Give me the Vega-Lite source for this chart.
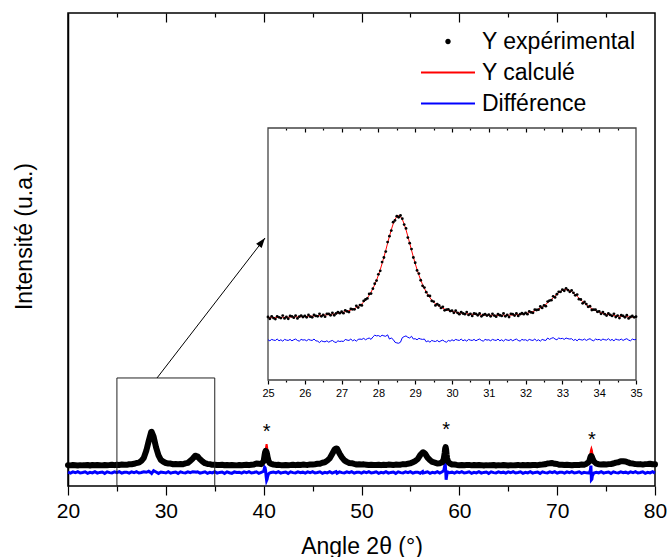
{
"$schema":"https://vega.github.io/schema/vega-lite/v6.json",
"width":587,"height":473,
"autosize":{"type":"none"},
"padding":{"left":68,"top":13,"right":13,"bottom":71},
"config":{"font":"Liberation Sans","view":{"stroke":"black","strokeWidth":1.5},"axis":{"grid":false,"domain":false,"tickColor":"black","tickWidth":1.2,"labelColor":"black","titleColor":"black","titleFontWeight":"normal","labelFont":"Liberation Sans","titleFont":"Liberation Sans"}},
"datasets":{
"main":[
{"x":20,"calc":97.9,"obs":99,"diff":37},{"x":20.25,"calc":97.9,"obs":97,"diff":28},{"x":20.5,"calc":98,"obs":100,"diff":39},{"x":20.75,"calc":98,"obs":98,"diff":32},{"x":21,"calc":98.1,"obs":96,"diff":42},{"x":21.25,"calc":98.1,"obs":99,"diff":30},{"x":21.5,"calc":98.2,"obs":97,"diff":34},{"x":21.75,"calc":98.2,"obs":98,"diff":40},{"x":22,"calc":98.3,"obs":100,"diff":27},{"x":22.25,"calc":98.4,"obs":96,"diff":36},{"x":22.5,"calc":98.5,"obs":100,"diff":31},{"x":22.75,"calc":98.7,"obs":98,"diff":41},{"x":23,"calc":98.8,"obs":101,"diff":29},{"x":23.25,"calc":98.9,"obs":99,"diff":35},{"x":23.5,"calc":99.1,"obs":97,"diff":38},{"x":23.75,"calc":99.3,"obs":100,"diff":26},{"x":24,"calc":99.5,"obs":99,"diff":40},{"x":24.25,"calc":99.8,"obs":100,"diff":33},{"x":24.5,"calc":100.1,"obs":102,"diff":30},{"x":24.75,"calc":100.5,"obs":99,"diff":39},
{"x":25,"calc":101,"obs":102,"diff":32},{"x":25.25,"calc":101.6,"obs":101,"diff":41},{"x":25.5,"calc":102.3,"obs":104,"diff":28},{"x":25.75,"calc":103.2,"obs":103,"diff":36},{"x":26,"calc":104.4,"obs":102,"diff":37},{"x":26.25,"calc":106,"obs":107,"diff":28},{"x":26.5,"calc":108.2,"obs":107,"diff":39},{"x":26.75,"calc":111.1,"obs":111,"diff":32},{"x":27,"calc":115.6,"obs":118,"diff":42},{"x":27.25,"calc":122.8,"obs":121,"diff":30},{"x":27.5,"calc":136.4,"obs":137,"diff":34},{"x":27.75,"calc":165.2,"obs":164,"diff":40},{"x":28,"calc":222.5,"obs":225,"diff":36},{"x":28.25,"calc":313.7,"obs":312,"diff":45},{"x":28.5,"calc":389.8,"obs":391,"diff":30},{"x":28.55,"calc":392.7,"obs":393,"diff":26},{"x":28.75,"calc":352.2,"obs":351,"diff":50},{"x":29,"calc":255.8,"obs":256,"diff":38},{"x":29.25,"calc":184.3,"obs":186,"diff":26},{"x":29.5,"calc":146,"obs":144,"diff":38},{"x":29.75,"calc":127.9,"obs":129,"diff":35},
{"x":30,"calc":119.1,"obs":118,"diff":30},{"x":30.25,"calc":114.1,"obs":114,"diff":41},{"x":30.5,"calc":111.1,"obs":113,"diff":28},{"x":30.75,"calc":109.2,"obs":107,"diff":35},{"x":31,"calc":108.1,"obs":109,"diff":38},{"x":31.25,"calc":107.7,"obs":107,"diff":26},{"x":31.5,"calc":108.1,"obs":109,"diff":40},{"x":31.75,"calc":109.4,"obs":107,"diff":33},{"x":32,"calc":113,"obs":115,"diff":30},{"x":32.25,"calc":120.6,"obs":119,"diff":39},{"x":32.5,"calc":135.3,"obs":136,"diff":32},{"x":32.75,"calc":157.9,"obs":157,"diff":41},{"x":33,"calc":178.8,"obs":181,"diff":38},{"x":33.1,"calc":181.3,"obs":181,"diff":36},{"x":33.25,"calc":175.5,"obs":175,"diff":40},{"x":33.5,"calc":152,"obs":150,"diff":29},{"x":33.75,"calc":130.4,"obs":131,"diff":34},{"x":34,"calc":116.8,"obs":116,"diff":40},{"x":34.25,"calc":109.5,"obs":110,"diff":27},{"x":34.5,"calc":105.8,"obs":108,"diff":36},{"x":34.75,"calc":103.7,"obs":102,"diff":31},
{"x":35,"calc":102.3,"obs":103,"diff":41},{"x":35.25,"calc":101.4,"obs":100,"diff":29},{"x":35.5,"calc":100.7,"obs":101,"diff":35},{"x":35.75,"calc":100.2,"obs":102,"diff":38},{"x":36,"calc":99.8,"obs":98,"diff":26},{"x":36.25,"calc":99.5,"obs":101,"diff":40},{"x":36.5,"calc":99.3,"obs":98,"diff":32},{"x":36.75,"calc":99.2,"obs":101,"diff":27},{"x":37,"calc":99.3,"obs":99,"diff":39},{"x":37.25,"calc":99.3,"obs":97,"diff":34},{"x":37.5,"calc":99.4,"obs":100,"diff":37},{"x":37.75,"calc":99.4,"obs":98,"diff":28},{"x":38,"calc":99.6,"obs":100,"diff":39},{"x":38.25,"calc":100,"obs":102,"diff":32},{"x":38.5,"calc":100.7,"obs":99,"diff":42},{"x":38.75,"calc":102.1,"obs":103,"diff":30},{"x":39,"calc":105.9,"obs":105,"diff":34},{"x":39.25,"calc":112.3,"obs":114,"diff":40},{"x":39.5,"calc":110.6,"obs":111,"diff":27},{"x":39.75,"calc":110.2,"obs":108,"diff":36},
{"x":40,"calc":125.5,"obs":134,"diff":45},{"x":40.1,"calc":148.6,"obs":190,"diff":80},{"x":40.15,"calc":171.6,"obs":214,"diff":75},{"x":40.2,"calc":208.5,"obs":224,"diff":50},{"x":40.25,"calc":256.9,"obs":222,"diff":0},{"x":40.3,"calc":284.1,"obs":214,"diff":-35},{"x":40.35,"calc":256.7,"obs":196,"diff":-25},{"x":40.4,"calc":208.1,"obs":170,"diff":-3},{"x":40.5,"calc":147.8,"obs":136,"diff":22},{"x":40.6,"calc":124.2,"obs":120,"diff":30},{"x":40.75,"calc":111.2,"obs":110,"diff":34},
{"x":41,"calc":104.5,"obs":105,"diff":39},{"x":41.25,"calc":101.9,"obs":101,"diff":31},{"x":41.5,"calc":100.9,"obs":102,"diff":41},{"x":41.75,"calc":100.4,"obs":99,"diff":29},{"x":42,"calc":100.2,"obs":99,"diff":35},{"x":42.25,"calc":100,"obs":101,"diff":38},{"x":42.5,"calc":100.1,"obs":99,"diff":26},{"x":42.75,"calc":100.1,"obs":100,"diff":40},{"x":43,"calc":100.2,"obs":102,"diff":33},{"x":43.25,"calc":100.5,"obs":99,"diff":30},{"x":43.5,"calc":100.8,"obs":102,"diff":39},{"x":43.75,"calc":101.1,"obs":100,"diff":32},{"x":44,"calc":101.6,"obs":104,"diff":37},{"x":44.25,"calc":102.1,"obs":102,"diff":28},{"x":44.5,"calc":102.9,"obs":101,"diff":39},{"x":44.75,"calc":103.8,"obs":105,"diff":32},
{"x":45,"calc":105.1,"obs":104,"diff":42},{"x":45.25,"calc":106.8,"obs":107,"diff":30},{"x":45.5,"calc":109.2,"obs":111,"diff":34},{"x":45.75,"calc":112.6,"obs":111,"diff":40},{"x":46,"calc":117.7,"obs":120,"diff":27},{"x":46.25,"calc":125.5,"obs":124,"diff":36},{"x":46.5,"calc":138.4,"obs":139,"diff":31},{"x":46.75,"calc":160.2,"obs":159,"diff":41},{"x":47,"calc":195.6,"obs":198,"diff":29},{"x":47.25,"calc":237.2,"obs":237,"diff":38},{"x":47.4,"calc":247.6,"obs":246,"diff":42},{"x":47.5,"calc":242.6,"obs":244,"diff":28},{"x":47.75,"calc":204.4,"obs":202,"diff":40},{"x":48,"calc":166.1,"obs":167,"diff":33},{"x":48.25,"calc":141.9,"obs":141,"diff":30},{"x":48.5,"calc":127.6,"obs":128,"diff":39},{"x":48.75,"calc":119,"obs":118,"diff":32},{"x":49,"calc":113.5,"obs":116,"diff":41},{"x":49.25,"calc":109.8,"obs":110,"diff":28},{"x":49.5,"calc":107.2,"obs":105,"diff":36},{"x":49.75,"calc":105.4,"obs":106,"diff":37},
{"x":50,"calc":104.6,"obs":104,"diff":28},{"x":50.25,"calc":103.6,"obs":106,"diff":39},{"x":50.5,"calc":102.9,"obs":103,"diff":32},{"x":50.75,"calc":102.3,"obs":100,"diff":42},{"x":51,"calc":101.9,"obs":103,"diff":30},{"x":51.25,"calc":101.6,"obs":101,"diff":34},{"x":51.5,"calc":101.4,"obs":101,"diff":40},{"x":51.75,"calc":101.3,"obs":103,"diff":27},{"x":52,"calc":101.2,"obs":99,"diff":36},{"x":52.25,"calc":101.2,"obs":102,"diff":31},{"x":52.5,"calc":101.3,"obs":100,"diff":41},{"x":52.75,"calc":101.5,"obs":104,"diff":29},{"x":53,"calc":101.8,"obs":102,"diff":35},{"x":53.25,"calc":102.2,"obs":100,"diff":38},{"x":53.5,"calc":102.8,"obs":104,"diff":26},{"x":53.75,"calc":103.5,"obs":103,"diff":40},{"x":54,"calc":104.5,"obs":103,"diff":33},{"x":54.25,"calc":105.9,"obs":108,"diff":30},{"x":54.5,"calc":107.9,"obs":106,"diff":39},{"x":54.75,"calc":110.9,"obs":112,"diff":32},
{"x":55,"calc":115.5,"obs":115,"diff":41},{"x":55.25,"calc":122.7,"obs":125,"diff":28},{"x":55.5,"calc":134.8,"obs":135,"diff":36},{"x":55.75,"calc":155.3,"obs":153,"diff":37},{"x":56,"calc":186.6,"obs":188,"diff":28},{"x":56.25,"calc":211.9,"obs":211,"diff":42},{"x":56.3,"calc":212.9,"obs":213,"diff":30},{"x":56.5,"calc":199.7,"obs":200,"diff":34},{"x":56.75,"calc":167.1,"obs":165,"diff":40},{"x":57,"calc":142.3,"obs":143,"diff":27},{"x":57.25,"calc":127.7,"obs":127,"diff":36},{"x":57.5,"calc":119.3,"obs":121,"diff":31},{"x":57.75,"calc":115.1,"obs":113,"diff":41},{"x":58,"calc":114.4,"obs":115,"diff":29},{"x":58.25,"calc":122.6,"obs":124,"diff":40},{"x":58.4,"calc":146.8,"obs":152,"diff":50},{"x":58.5,"calc":198.1,"obs":205,"diff":90},{"x":58.55,"calc":239.4,"obs":244,"diff":125},{"x":58.6,"calc":262.6,"obs":258,"diff":60},{"x":58.65,"calc":238.8,"obs":236,"diff":-30},{"x":58.7,"calc":197,"obs":192,"diff":0},{"x":58.75,"calc":164.9,"obs":160,"diff":25},{"x":58.85,"calc":132.3,"obs":130,"diff":38},{"x":59,"calc":115.1,"obs":116,"diff":32},{"x":59.25,"calc":106.5,"obs":105,"diff":37},{"x":59.5,"calc":103.5,"obs":105,"diff":28},{"x":59.75,"calc":101.9,"obs":101,"diff":39},
{"x":60,"calc":101,"obs":99,"diff":32},{"x":60.25,"calc":100.4,"obs":101,"diff":42},{"x":60.5,"calc":99.9,"obs":99,"diff":30},{"x":60.75,"calc":99.6,"obs":100,"diff":34},{"x":61,"calc":99.3,"obs":101,"diff":40},{"x":61.25,"calc":99,"obs":97,"diff":27},{"x":61.5,"calc":98.9,"obs":100,"diff":36},{"x":61.75,"calc":98.7,"obs":98,"diff":31},{"x":62,"calc":98.6,"obs":101,"diff":41},{"x":62.25,"calc":98.5,"obs":99,"diff":29},{"x":62.5,"calc":98.4,"obs":96,"diff":35},{"x":62.75,"calc":98.3,"obs":99,"diff":38},{"x":63,"calc":98.2,"obs":97,"diff":26},{"x":63.25,"calc":98.2,"obs":98,"diff":40},{"x":63.5,"calc":98.2,"obs":100,"diff":33},{"x":63.75,"calc":98.1,"obs":96,"diff":30},{"x":64,"calc":98.1,"obs":99,"diff":39},{"x":64.25,"calc":98.1,"obs":97,"diff":32},{"x":64.5,"calc":98.2,"obs":100,"diff":37},{"x":64.75,"calc":98.2,"obs":98,"diff":28},
{"x":65,"calc":98.3,"obs":96,"diff":39},{"x":65.25,"calc":98.3,"obs":99,"diff":32},{"x":65.5,"calc":98.4,"obs":97,"diff":42},{"x":65.75,"calc":98.5,"obs":99,"diff":30},{"x":66,"calc":98.6,"obs":101,"diff":34},{"x":66.25,"calc":98.7,"obs":97,"diff":40},{"x":66.5,"calc":98.8,"obs":100,"diff":27},{"x":66.75,"calc":99,"obs":99,"diff":36},{"x":67,"calc":99.2,"obs":100,"diff":31},{"x":67.25,"calc":99.4,"obs":98,"diff":41},{"x":67.5,"calc":99.8,"obs":101,"diff":29},{"x":67.75,"calc":100.3,"obs":100,"diff":35},{"x":68,"calc":100.8,"obs":99,"diff":38},{"x":68.25,"calc":102,"obs":103,"diff":26},{"x":68.5,"calc":103.9,"obs":104,"diff":40},{"x":68.75,"calc":106.9,"obs":106,"diff":33},{"x":69,"calc":111.5,"obs":114,"diff":30},{"x":69.25,"calc":116.5,"obs":115,"diff":39},{"x":69.5,"calc":117.2,"obs":118,"diff":32},{"x":69.75,"calc":112.6,"obs":111,"diff":41},
{"x":70,"calc":107.7,"obs":109,"diff":28},{"x":70.25,"calc":104.4,"obs":102,"diff":36},{"x":70.5,"calc":102.3,"obs":103,"diff":37},{"x":70.75,"calc":101,"obs":100,"diff":28},{"x":71,"calc":100.7,"obs":102,"diff":39},{"x":71.25,"calc":100.2,"obs":100,"diff":32},{"x":71.5,"calc":100,"obs":98,"diff":42},{"x":71.75,"calc":99.9,"obs":101,"diff":30},{"x":72,"calc":100.7,"obs":100,"diff":34},{"x":72.25,"calc":101.3,"obs":101,"diff":40},{"x":72.5,"calc":102.4,"obs":104,"diff":27},{"x":72.75,"calc":104.9,"obs":103,"diff":36},{"x":73,"calc":111.3,"obs":112,"diff":31},{"x":73.25,"calc":137.5,"obs":128,"diff":30},{"x":73.3,"calc":151.1,"obs":140,"diff":30},{"x":73.4,"calc":198.8,"obs":170,"diff":60},{"x":73.45,"calc":228.5,"obs":180,"diff":95},{"x":73.5,"calc":242.9,"obs":180,"diff":-30},{"x":73.55,"calc":228.6,"obs":172,"diff":-25},{"x":73.6,"calc":199,"obs":160,"diff":5},{"x":73.75,"calc":138,"obs":132,"diff":30},{"x":74,"calc":112.4,"obs":112,"diff":36},{"x":74.25,"calc":106.7,"obs":107,"diff":31},{"x":74.5,"calc":104.9,"obs":104,"diff":41},{"x":74.75,"calc":104.8,"obs":106,"diff":29},
{"x":75,"calc":105.6,"obs":104,"diff":35},{"x":75.25,"calc":107.1,"obs":108,"diff":38},{"x":75.5,"calc":109.7,"obs":109,"diff":26},{"x":75.75,"calc":113.4,"obs":113,"diff":40},{"x":76,"calc":118.9,"obs":121,"diff":33},{"x":76.25,"calc":125.9,"obs":124,"diff":30},{"x":76.5,"calc":132.5,"obs":134,"diff":39},{"x":76.75,"calc":135,"obs":134,"diff":32},{"x":77,"calc":130.5,"obs":132,"diff":37},{"x":77.25,"calc":123.4,"obs":123,"diff":28},{"x":77.5,"calc":116.8,"obs":115,"diff":39},{"x":77.75,"calc":112.1,"obs":113,"diff":32},{"x":78,"calc":109.1,"obs":108,"diff":42},{"x":78.25,"calc":107.2,"obs":107,"diff":30},{"x":78.5,"calc":106.1,"obs":108,"diff":34},{"x":78.75,"calc":106.2,"obs":104,"diff":40},{"x":79,"calc":107.3,"obs":108,"diff":27},{"x":79.25,"calc":109.2,"obs":109,"diff":36},{"x":79.5,"calc":110.2,"obs":111,"diff":31},{"x":79.75,"calc":108.3,"obs":107,"diff":41},{"x":80,"calc":105.4,"obs":106,"diff":29}
],
"inset":[
{"x":25,"calc":101,"obs":103,"diff":38},{"x":25.05,"calc":101.1,"obs":98,"diff":35},{"x":25.1,"calc":101.2,"obs":105,"diff":39},{"x":25.15,"calc":101.3,"obs":100,"diff":37},{"x":25.2,"calc":101.4,"obs":97,"diff":36},{"x":25.25,"calc":101.6,"obs":105,"diff":40},{"x":25.3,"calc":101.7,"obs":102,"diff":35},{"x":25.35,"calc":101.8,"obs":100,"diff":38},{"x":25.4,"calc":102,"obs":107,"diff":34},{"x":25.45,"calc":102.2,"obs":99,"diff":39},{"x":25.5,"calc":102.3,"obs":103,"diff":37},{"x":25.55,"calc":102.5,"obs":98,"diff":36},{"x":25.6,"calc":102.7,"obs":106,"diff":39},{"x":25.65,"calc":102.9,"obs":105,"diff":35},{"x":25.7,"calc":103,"obs":101,"diff":38},{"x":25.75,"calc":103.2,"obs":107,"diff":40},{"x":25.8,"calc":103.5,"obs":99,"diff":36},{"x":25.85,"calc":103.7,"obs":104,"diff":34},{"x":25.9,"calc":103.9,"obs":107,"diff":39},{"x":25.95,"calc":104.2,"obs":103,"diff":37},
{"x":26,"calc":104.4,"obs":106,"diff":38},{"x":26.05,"calc":104.7,"obs":102,"diff":35},{"x":26.1,"calc":105,"obs":109,"diff":39},{"x":26.15,"calc":105.3,"obs":104,"diff":37},{"x":26.2,"calc":105.6,"obs":102,"diff":36},{"x":26.25,"calc":106,"obs":109,"diff":40},{"x":26.3,"calc":106.4,"obs":106,"diff":35},{"x":26.35,"calc":106.8,"obs":105,"diff":34},{"x":26.4,"calc":107.3,"obs":112,"diff":30},{"x":26.45,"calc":107.7,"obs":105,"diff":35},{"x":26.5,"calc":108.2,"obs":109,"diff":33},{"x":26.55,"calc":108.6,"obs":104,"diff":32},{"x":26.6,"calc":109.2,"obs":112,"diff":35},{"x":26.65,"calc":109.8,"obs":112,"diff":31},{"x":26.7,"calc":110.4,"obs":108,"diff":34},{"x":26.75,"calc":111.1,"obs":115,"diff":36},{"x":26.8,"calc":111.8,"obs":108,"diff":32},{"x":26.85,"calc":112.6,"obs":113,"diff":30},{"x":26.9,"calc":113.5,"obs":117,"diff":35},{"x":26.95,"calc":114.5,"obs":114,"diff":33},
{"x":27,"calc":115.6,"obs":118,"diff":34},{"x":27.05,"calc":116.8,"obs":114,"diff":33},{"x":27.1,"calc":118.1,"obs":122,"diff":39},{"x":27.15,"calc":119.5,"obs":119,"diff":37},{"x":27.2,"calc":121,"obs":117,"diff":36},{"x":27.25,"calc":122.8,"obs":126,"diff":40},{"x":27.3,"calc":124.8,"obs":125,"diff":35},{"x":27.35,"calc":127.1,"obs":125,"diff":38},{"x":27.4,"calc":129.8,"obs":135,"diff":34},{"x":27.45,"calc":132.9,"obs":130,"diff":39},{"x":27.5,"calc":136.4,"obs":137,"diff":40},{"x":27.55,"calc":140.6,"obs":136,"diff":39},{"x":27.6,"calc":145.5,"obs":149,"diff":42},{"x":27.65,"calc":151.1,"obs":153,"diff":38},{"x":27.7,"calc":157.6,"obs":156,"diff":41},{"x":27.75,"calc":165.2,"obs":169,"diff":43},{"x":27.8,"calc":173.9,"obs":170,"diff":39},{"x":27.85,"calc":183.9,"obs":184,"diff":46},{"x":27.9,"calc":195.3,"obs":198,"diff":51},{"x":27.95,"calc":208.2,"obs":207,"diff":49},
{"x":28,"calc":222.5,"obs":225,"diff":50},{"x":28.05,"calc":238.4,"obs":235,"diff":47},{"x":28.1,"calc":255.6,"obs":260,"diff":51},{"x":28.15,"calc":274.2,"obs":273,"diff":49},{"x":28.2,"calc":293.6,"obs":290,"diff":48},{"x":28.25,"calc":313.7,"obs":317,"diff":52},{"x":28.3,"calc":333.5,"obs":334,"diff":40},{"x":28.35,"calc":352.1,"obs":350,"diff":43},{"x":28.4,"calc":368.5,"obs":374,"diff":39},{"x":28.45,"calc":381.5,"obs":379,"diff":31},{"x":28.5,"calc":389.8,"obs":391,"diff":29},{"x":28.55,"calc":392.7,"obs":388,"diff":28},{"x":28.6,"calc":389.8,"obs":393,"diff":31},{"x":28.65,"calc":381.6,"obs":384,"diff":44},{"x":28.7,"calc":368.6,"obs":367,"diff":47},{"x":28.75,"calc":352.2,"obs":356,"diff":49},{"x":28.8,"calc":333.6,"obs":330,"diff":45},{"x":28.85,"calc":313.8,"obs":314,"diff":43},{"x":28.9,"calc":293.8,"obs":297,"diff":48},{"x":28.95,"calc":274.4,"obs":273,"diff":40},
{"x":29,"calc":255.8,"obs":258,"diff":41},{"x":29.05,"calc":238.8,"obs":236,"diff":38},{"x":29.1,"calc":222.9,"obs":227,"diff":42},{"x":29.15,"calc":208.6,"obs":208,"diff":40},{"x":29.2,"calc":195.7,"obs":192,"diff":39},{"x":29.25,"calc":184.3,"obs":187,"diff":40},{"x":29.3,"calc":174.3,"obs":174,"diff":32},{"x":29.35,"calc":165.7,"obs":164,"diff":35},{"x":29.4,"calc":158.1,"obs":163,"diff":31},{"x":29.45,"calc":151.6,"obs":149,"diff":36},{"x":29.5,"calc":146,"obs":147,"diff":34},{"x":29.55,"calc":141.3,"obs":136,"diff":33},{"x":29.6,"calc":137.2,"obs":140,"diff":36},{"x":29.65,"calc":133.7,"obs":136,"diff":32},{"x":29.7,"calc":130.6,"obs":129,"diff":35},{"x":29.75,"calc":127.9,"obs":132,"diff":37},{"x":29.8,"calc":125.7,"obs":122,"diff":33},{"x":29.85,"calc":123.7,"obs":124,"diff":31},{"x":29.9,"calc":121.9,"obs":125,"diff":36},{"x":29.95,"calc":120.5,"obs":120,"diff":34},
{"x":30,"calc":119.1,"obs":121,"diff":38},{"x":30.05,"calc":117.9,"obs":115,"diff":35},{"x":30.1,"calc":116.8,"obs":121,"diff":39},{"x":30.15,"calc":115.8,"obs":115,"diff":37},{"x":30.2,"calc":114.9,"obs":111,"diff":36},{"x":30.25,"calc":114.1,"obs":117,"diff":40},{"x":30.3,"calc":113.4,"obs":113,"diff":35},{"x":30.35,"calc":112.8,"obs":111,"diff":38},{"x":30.4,"calc":112.2,"obs":117,"diff":34},{"x":30.45,"calc":111.6,"obs":109,"diff":39},{"x":30.5,"calc":111.1,"obs":112,"diff":37},{"x":30.55,"calc":110.6,"obs":106,"diff":36},{"x":30.6,"calc":110.3,"obs":113,"diff":39},{"x":30.65,"calc":109.9,"obs":112,"diff":35},{"x":30.7,"calc":109.6,"obs":108,"diff":38},{"x":30.75,"calc":109.2,"obs":113,"diff":40},{"x":30.8,"calc":108.9,"obs":105,"diff":36},{"x":30.85,"calc":108.6,"obs":109,"diff":34},{"x":30.9,"calc":108.4,"obs":111,"diff":39},{"x":30.95,"calc":108.2,"obs":107,"diff":37},
{"x":31,"calc":108.1,"obs":110,"diff":38},{"x":31.05,"calc":107.9,"obs":105,"diff":35},{"x":31.1,"calc":107.9,"obs":112,"diff":39},{"x":31.15,"calc":107.8,"obs":107,"diff":37},{"x":31.2,"calc":107.7,"obs":104,"diff":36},{"x":31.25,"calc":107.7,"obs":111,"diff":40},{"x":31.3,"calc":107.7,"obs":108,"diff":35},{"x":31.35,"calc":107.8,"obs":106,"diff":38},{"x":31.4,"calc":107.8,"obs":113,"diff":34},{"x":31.45,"calc":108,"obs":105,"diff":39},{"x":31.5,"calc":108.1,"obs":109,"diff":37},{"x":31.55,"calc":108.3,"obs":103,"diff":36},{"x":31.6,"calc":108.5,"obs":112,"diff":39},{"x":31.65,"calc":108.8,"obs":111,"diff":35},{"x":31.7,"calc":109.1,"obs":107,"diff":38},{"x":31.75,"calc":109.4,"obs":113,"diff":40},{"x":31.8,"calc":110,"obs":106,"diff":36},{"x":31.85,"calc":110.6,"obs":111,"diff":34},{"x":31.9,"calc":111.2,"obs":114,"diff":39},{"x":31.95,"calc":112,"obs":111,"diff":37},
{"x":32,"calc":113,"obs":115,"diff":38},{"x":32.05,"calc":114.1,"obs":111,"diff":35},{"x":32.1,"calc":115.4,"obs":119,"diff":39},{"x":32.15,"calc":116.9,"obs":116,"diff":37},{"x":32.2,"calc":118.6,"obs":115,"diff":36},{"x":32.25,"calc":120.6,"obs":124,"diff":40},{"x":32.3,"calc":122.9,"obs":123,"diff":35},{"x":32.35,"calc":125.5,"obs":124,"diff":38},{"x":32.4,"calc":128.5,"obs":133,"diff":34},{"x":32.45,"calc":131.7,"obs":129,"diff":39},{"x":32.5,"calc":135.3,"obs":136,"diff":37},{"x":32.55,"calc":139.2,"obs":134,"diff":36},{"x":32.6,"calc":143.6,"obs":147,"diff":43},{"x":32.65,"calc":148.1,"obs":150,"diff":39},{"x":32.7,"calc":152.8,"obs":151,"diff":42},{"x":32.75,"calc":157.9,"obs":162,"diff":44},{"x":32.8,"calc":162.8,"obs":159,"diff":40},{"x":32.85,"calc":167.5,"obs":168,"diff":38},{"x":32.9,"calc":172,"obs":175,"diff":43},{"x":32.95,"calc":175.8,"obs":175,"diff":41},
{"x":33,"calc":178.8,"obs":181,"diff":42},{"x":33.05,"calc":180.6,"obs":178,"diff":39},{"x":33.1,"calc":181.3,"obs":185,"diff":43},{"x":33.15,"calc":180.5,"obs":180,"diff":41},{"x":33.2,"calc":178.6,"obs":175,"diff":40},{"x":33.25,"calc":175.5,"obs":179,"diff":41},{"x":33.3,"calc":171.6,"obs":172,"diff":36},{"x":33.35,"calc":167.1,"obs":165,"diff":39},{"x":33.4,"calc":162.2,"obs":167,"diff":35},{"x":33.45,"calc":157.2,"obs":154,"diff":40},{"x":33.5,"calc":152,"obs":153,"diff":38},{"x":33.55,"calc":147.2,"obs":142,"diff":37},{"x":33.6,"calc":142.6,"obs":146,"diff":40},{"x":33.65,"calc":138.2,"obs":140,"diff":36},{"x":33.7,"calc":134.1,"obs":132,"diff":39},{"x":33.75,"calc":130.4,"obs":134,"diff":41},{"x":33.8,"calc":127.1,"obs":123,"diff":37},{"x":33.85,"calc":124,"obs":124,"diff":35},{"x":33.9,"calc":121.3,"obs":124,"diff":40},{"x":33.95,"calc":118.9,"obs":118,"diff":38},
{"x":34,"calc":116.8,"obs":119,"diff":39},{"x":34.05,"calc":114.9,"obs":112,"diff":36},{"x":34.1,"calc":113.3,"obs":117,"diff":40},{"x":34.15,"calc":111.9,"obs":111,"diff":38},{"x":34.2,"calc":110.6,"obs":107,"diff":37},{"x":34.25,"calc":109.5,"obs":113,"diff":41},{"x":34.3,"calc":108.6,"obs":109,"diff":36},{"x":34.35,"calc":107.8,"obs":106,"diff":39},{"x":34.4,"calc":107,"obs":112,"diff":35},{"x":34.45,"calc":106.3,"obs":103,"diff":40},{"x":34.5,"calc":105.8,"obs":107,"diff":38},{"x":34.55,"calc":105.2,"obs":100,"diff":37},{"x":34.6,"calc":104.8,"obs":108,"diff":40},{"x":34.65,"calc":104.4,"obs":106,"diff":36},{"x":34.7,"calc":104,"obs":102,"diff":39},{"x":34.75,"calc":103.7,"obs":108,"diff":41},{"x":34.8,"calc":103.3,"obs":99,"diff":37},{"x":34.85,"calc":103.1,"obs":103,"diff":35},{"x":34.9,"calc":102.8,"obs":106,"diff":40},{"x":34.95,"calc":102.5,"obs":102,"diff":38},{"x":35,"calc":102.3,"obs":104,"diff":39}
],
"stars":[{"x":40.3,"y":335},{"x":58.65,"y":352},{"x":73.55,"y":264}]
},
"layer":[
{
"layer":[
{"data":{"name":"main"},"mark":{"type":"line","strokeWidth":3},
 "encoding":{
  "x":{"field":"x","type":"quantitative","scale":{"domain":[20,80],"nice":false,"zero":false},
       "axis":{"orient":"bottom","values":[20,30,40,50,60,70,80],"tickSize":9,"labelFontSize":21,"labelPadding":5,"labelFlush":false,"title":"Angle 2θ (°)","titleFontSize":23,"titleX":293.5,"titleY":60,"titleBaseline":"middle","titleAlign":"center"}},
  "y":{"field":"diff","type":"quantitative","scale":{"domain":[-85,4088],"nice":false,"zero":false},
       "axis":{"orient":"left","title":"Intensité (u.a.)","labels":false,"ticks":false,"domain":true,"domainColor":"black","domainWidth":1.5,"titleFontSize":23,"titleX":-44,"titleY":223,"titleAngle":-90,"titleAlign":"center","titleBaseline":"middle"}},
  "color":{"datum":"Différence","type":"nominal","scale":{"domain":["Y expérimental","Y calculé","Différence"],"range":["black","red","blue"]},
     "legend":{"orient":"none","legendX":368.5,"legendY":17,"title":null,"labelFontSize":23,"labelColor":"black","labelOffset":22.5,"rowPadding":7,"padding":0,"symbolSize":81,"symbolType":"M-6,0H6","symbolStrokeWidth":2,"symbolOffset":0,"labelLimit":0,
       "encode":{"symbols":{"update":{
         "shape":{"signal":"datum.value == 'Y expérimental' ? 'circle' : 'M-6,0H6'"},
         "size":{"signal":"datum.value == 'Y expérimental' ? 12 : 81"},
         "fill":{"signal":"datum.value == 'Y expérimental' ? 'black' : 'transparent'"},
         "stroke":{"signal":"datum.value == 'Y calculé' ? 'red' : (datum.value == 'Différence' ? 'blue' : 'transparent')"},
         "strokeWidth":{"value":2},
         "opacity":{"value":1}
       }}}}}
 }},
{"data":{"name":"main"},"mark":{"type":"line","strokeWidth":2},
 "encoding":{
  "x":{"field":"x","type":"quantitative","scale":{"domain":[20,80],"nice":false,"zero":false},
       "axis":{"orient":"bottom","values":[25,35,45,55,65,75],"tickSize":5,"labels":false,"title":null}},
  "y":{"field":"calc","type":"quantitative","scale":{"domain":[-85,4088],"nice":false,"zero":false}},
  "color":{"datum":"Y calculé","type":"nominal"}
 }},
{"data":{"name":"main"},"mark":{"type":"line","strokeWidth":6,"strokeJoin":"round","strokeCap":"round"},
 "encoding":{
  "x":{"field":"x","type":"quantitative","scale":{"domain":[20,80],"nice":false,"zero":false},
       "axis":{"orient":"bottom","offset":-473,"values":[30,40,50,60,70],"tickSize":9,"labels":false,"title":null}},
  "y":{"field":"obs","type":"quantitative","scale":{"domain":[-85,4088],"nice":false,"zero":false}},
  "color":{"datum":"Y expérimental","type":"nominal"}
 }},
{"data":{"values":[{}]},"mark":{"type":"rect","fill":"transparent","stroke":"#222","strokeWidth":1},
 "encoding":{
  "x":{"datum":25,"type":"quantitative","scale":{"domain":[20,80],"nice":false,"zero":false},
       "axis":{"orient":"bottom","offset":-473,"values":[25,35,45,55,65,75],"tickSize":4,"labels":false,"title":null}},
  "x2":{"datum":35},
  "y":{"datum":-85,"type":"quantitative","scale":{"domain":[-85,4088],"nice":false,"zero":false}},
  "y2":{"datum":868}
 }},
{"data":{"values":[{}]},"mark":{"type":"rule","color":"black","strokeWidth":1},
 "encoding":{
  "x":{"datum":29.1,"type":"quantitative","axis":null},
  "y":{"datum":868,"type":"quantitative"},
  "x2":{"datum":40.14},
  "y2":{"datum":2103}
 }},
{"data":{"values":[{}]},"mark":{"type":"point","shape":"M0,-1L-0.7,1L0.7,1Z","filled":true,"color":"black","opacity":1,"size":100,"angle":37.6},
 "encoding":{
  "x":{"datum":39.825,"type":"quantitative","axis":null},
  "y":{"datum":2068,"type":"quantitative"}
 }},
{"data":{"name":"stars"},"mark":{"type":"text","text":"*","fontSize":20,"baseline":"alphabetic","align":"center","color":"black"},
 "encoding":{
  "x":{"field":"x","type":"quantitative","axis":null},
  "y":{"field":"y","type":"quantitative"}
 }}
],
"resolve":{"axis":{"x":"independent"}}
},
{
"layer":[
{"data":{"values":[{}]},"mark":{"type":"rect","fill":"transparent","stroke":"#444","strokeWidth":1.3},
 "encoding":{
  "x":{"datum":25,"type":"quantitative","scale":{"domain":[25,35],"range":[200,568],"nice":false,"zero":false},
       "axis":{"orient":"bottom","offset":-106,"values":[25,26,27,28,29,30,31,32,33,34,35],"tickSize":4,"labelFontSize":11,"labelPadding":3,"labelFlush":false,"title":null}},
  "x2":{"datum":35},
  "y":{"datum":-77,"type":"quantitative","scale":{"domain":[-77,643],"range":[367,115],"nice":false,"zero":false},"axis":null},
  "y2":{"datum":643}
 }},
{"data":{"name":"inset"},"mark":{"type":"line","strokeWidth":1,"color":"blue"},
 "encoding":{
  "x":{"field":"x","type":"quantitative","scale":{"domain":[25,35],"range":[200,568],"nice":false,"zero":false},
       "axis":{"orient":"bottom","offset":-106,"values":[25.5,26.5,27.5,28.5,29.5,30.5,31.5,32.5,33.5,34.5],"tickSize":2,"labels":false,"title":null}},
  "y":{"field":"diff","type":"quantitative","scale":{"domain":[-77,643],"range":[367,115],"nice":false,"zero":false},"axis":null}
 }},
{"data":{"name":"inset"},"mark":{"type":"line","strokeWidth":1,"color":"red"},
 "encoding":{
  "x":{"field":"x","type":"quantitative","scale":{"domain":[25,35],"range":[200,568],"nice":false,"zero":false},
       "axis":{"orient":"bottom","offset":-358,"values":[26,27,28,29,30,31,32,33,34],"tickSize":4,"labels":false,"title":null}},
  "y":{"field":"calc","type":"quantitative","scale":{"domain":[-77,643],"range":[367,115],"nice":false,"zero":false},"axis":null}
 }},
{"data":{"name":"inset"},"mark":{"type":"point","filled":true,"size":8,"color":"black","opacity":1},
 "encoding":{
  "x":{"field":"x","type":"quantitative","scale":{"domain":[25,35],"range":[200,568],"nice":false,"zero":false},
       "axis":{"orient":"bottom","offset":-358,"values":[25.5,26.5,27.5,28.5,29.5,30.5,31.5,32.5,33.5,34.5],"tickSize":2,"labels":false,"title":null}},
  "y":{"field":"obs","type":"quantitative","scale":{"domain":[-77,643],"range":[367,115],"nice":false,"zero":false},"axis":null}
 }}
],
"resolve":{"axis":{"x":"independent"}}
}
],
"resolve":{"scale":{"x":"independent","y":"independent"}}
}
